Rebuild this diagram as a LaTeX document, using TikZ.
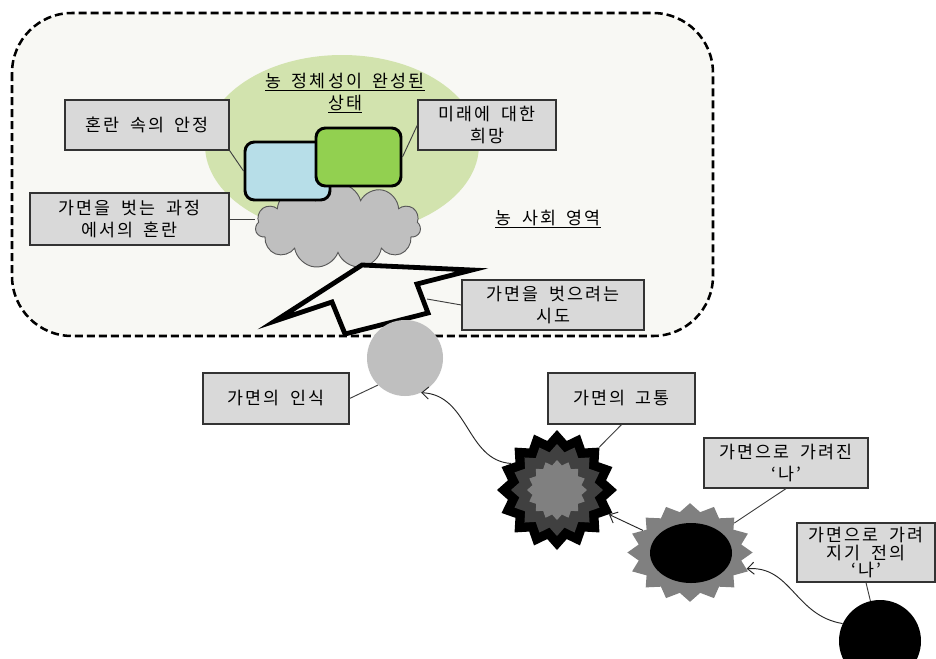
\documentclass[tikz,border=0pt]{standalone}
\usepackage{fontspec}
\setmainfont{Noto Sans CJK KR}[LetterSpace=12, WordSpace=1.8]
\usepackage{tikz}
\usetikzlibrary{shapes.geometric,shapes.symbols,arrows.meta}

\definecolor{frame_fill}{HTML}{F8F8F4}
\definecolor{box_fill}{HTML}{D9D9D9}
\definecolor{done_fill}{HTML}{D2E3AE}
\definecolor{calm_fill}{HTML}{B7DEE8}
\definecolor{hope_fill}{HTML}{92D050}
\definecolor{mist_fill}{HTML}{BFBFBF}

\tikzset{
  labelbox/.style={draw=black!80, line width=0.9pt, fill=box_fill, align=center, inner sep=0pt},
  inbox/.style={draw=black, line width=2.2pt, rounded corners=7pt, minimum width=63.75pt, minimum height=43.5pt},
  link/.style={draw=black!75, line width=0.7pt},
  flow/.style={draw=black!85, line width=0.7pt, -{Straight Barb[length=5pt,width=9pt]}},
  spiky/.style={star, star points=16, star point ratio=1.2, inner sep=0pt},
}

\begin{document}
\begin{tikzpicture}[x=0.75pt, y=-0.75pt, font=\fontsize{13}{16.5}\selectfont]
        \fill[white] (0,0) rectangle (936,658);
        \useasboundingbox (0,0) rectangle (936,658);

        % Farming-society area
        \draw[line width=1.9pt, dash pattern=on 6pt off 3pt, fill=frame_fill, rounded corners=45pt] (12,13) rectangle (713,336);
        \node[ellipse, fill=done_fill, minimum width=205.5pt, minimum height=135pt] (done) at (342,145) {};
        \node[align=center] (done_title) at (345,93) {\underline{농 정체성이 완성된}\\\underline{상태}};
        \node (society_title) at (548,219) {\underline{농 사회 영역}};

        % Cloud and the two inner boxes
        \node[cloud, cloud puffs=11, aspect=2, draw=black!65, line width=0.7pt, fill=mist_fill, minimum width=124pt, minimum height=64pt, inner sep=0pt] (chaos_cloud) at (338,226) {};
        \node[inbox, fill=calm_fill] (calm_box) at (287.5,171) {};
        \node[inbox, fill=hope_fill] (hope_box) at (358.5,157) {};

        % Hollow arrow
        \draw[line width=3.6pt, fill=frame_fill] (275,321) -- (362,265) -- (472,270) -- (417,284) -- (428,313) -- (345,334) -- (332,302) -- cycle;
        \coordinate (arrow_side) at (427,299);

        % Labels
        \node[labelbox, minimum width=123pt, minimum height=37.5pt] (calm_label) at (147,125) {혼란 속의 안정};
        \node[labelbox, minimum width=149.25pt, minimum height=39pt] (chaos_label) at (129.5,219) {가면을 벗는 과정\\에서의 혼란};
        \node[labelbox, minimum width=103.5pt, minimum height=37.5pt] (hope_label) at (487,125) {미래에 대한\\희망};
        \node[labelbox, minimum width=136.5pt, minimum height=37.5pt] (attempt_label) at (553,305) {가면을 벗으려는\\시도};
        \node[labelbox, minimum width=109.5pt, minimum height=38.25pt] (aware_label) at (276,398.5) {가면의 인식};
        \node[labelbox, minimum width=110.25pt, minimum height=38.25pt] (pain_label) at (621.5,398.5) {가면의 고통};
        \node[labelbox, minimum width=123pt, minimum height=37.5pt] (hidden_label) at (786,463) {가면으로 가려진\\‘나’};
        \node[labelbox, minimum width=103.5pt, minimum height=44.25pt, font=\fontsize{13}{13}\selectfont] (before_label) at (866,552.5) {가면으로 가려\\지기 전의\\‘나’};

        % Stages of the self
        \node[circle, fill=mist_fill, minimum size=57pt, inner sep=0pt] (aware) at (405,358) {};
        \node[spiky, fill=black, minimum size=90pt] (pain) at (557,490) {};
        \node[spiky, fill=black!75, minimum size=69pt] (pain_mid) at (557,490) {};
        \node[spiky, fill=black!50, minimum size=45pt] (pain_core) at (557,490) {};
        \begin{scope}[shift={(690,552.5)}, xscale=1.27]
          \node[spiky, fill=black!50, minimum size=74pt, transform shape] (hidden) at (0,0) {};
        \end{scope}
        \node[ellipse, fill=black, minimum width=61.5pt, minimum height=45pt, inner sep=0pt] (hidden_core) at (691,553) {};
        \node[circle, fill=black, minimum size=61.5pt, inner sep=0pt] (before) at (880,641) {};

        % Connectors
        \draw[link] (calm_label.south east) -- (calm_box.west);
        \draw[link] (chaos_label.east) -- (chaos_label.east -| chaos_cloud.west);
        \draw[link] (hope_label.west) -- (hope_box.east);
        \draw[link] (attempt_label.west) -- (arrow_side);
        \draw[link] (aware_label.east) -- (aware.south west);
        \draw[link] (pain_label.south) -- (pain);
        \draw[link] (hidden_label.south) -- (hidden);
        \draw[link] (before_label.south) -- (before);

        % Flow between stages
        \draw[flow] (pain.150) .. controls +(-45,-3) and +(48,2) .. (aware.-65);
        \draw[flow] (hidden) -- (pain);
        \draw[flow] (before.155) .. controls +(-48,-8) and +(45,-3) .. (hidden.-20);
      \end{tikzpicture}
\end{document}
